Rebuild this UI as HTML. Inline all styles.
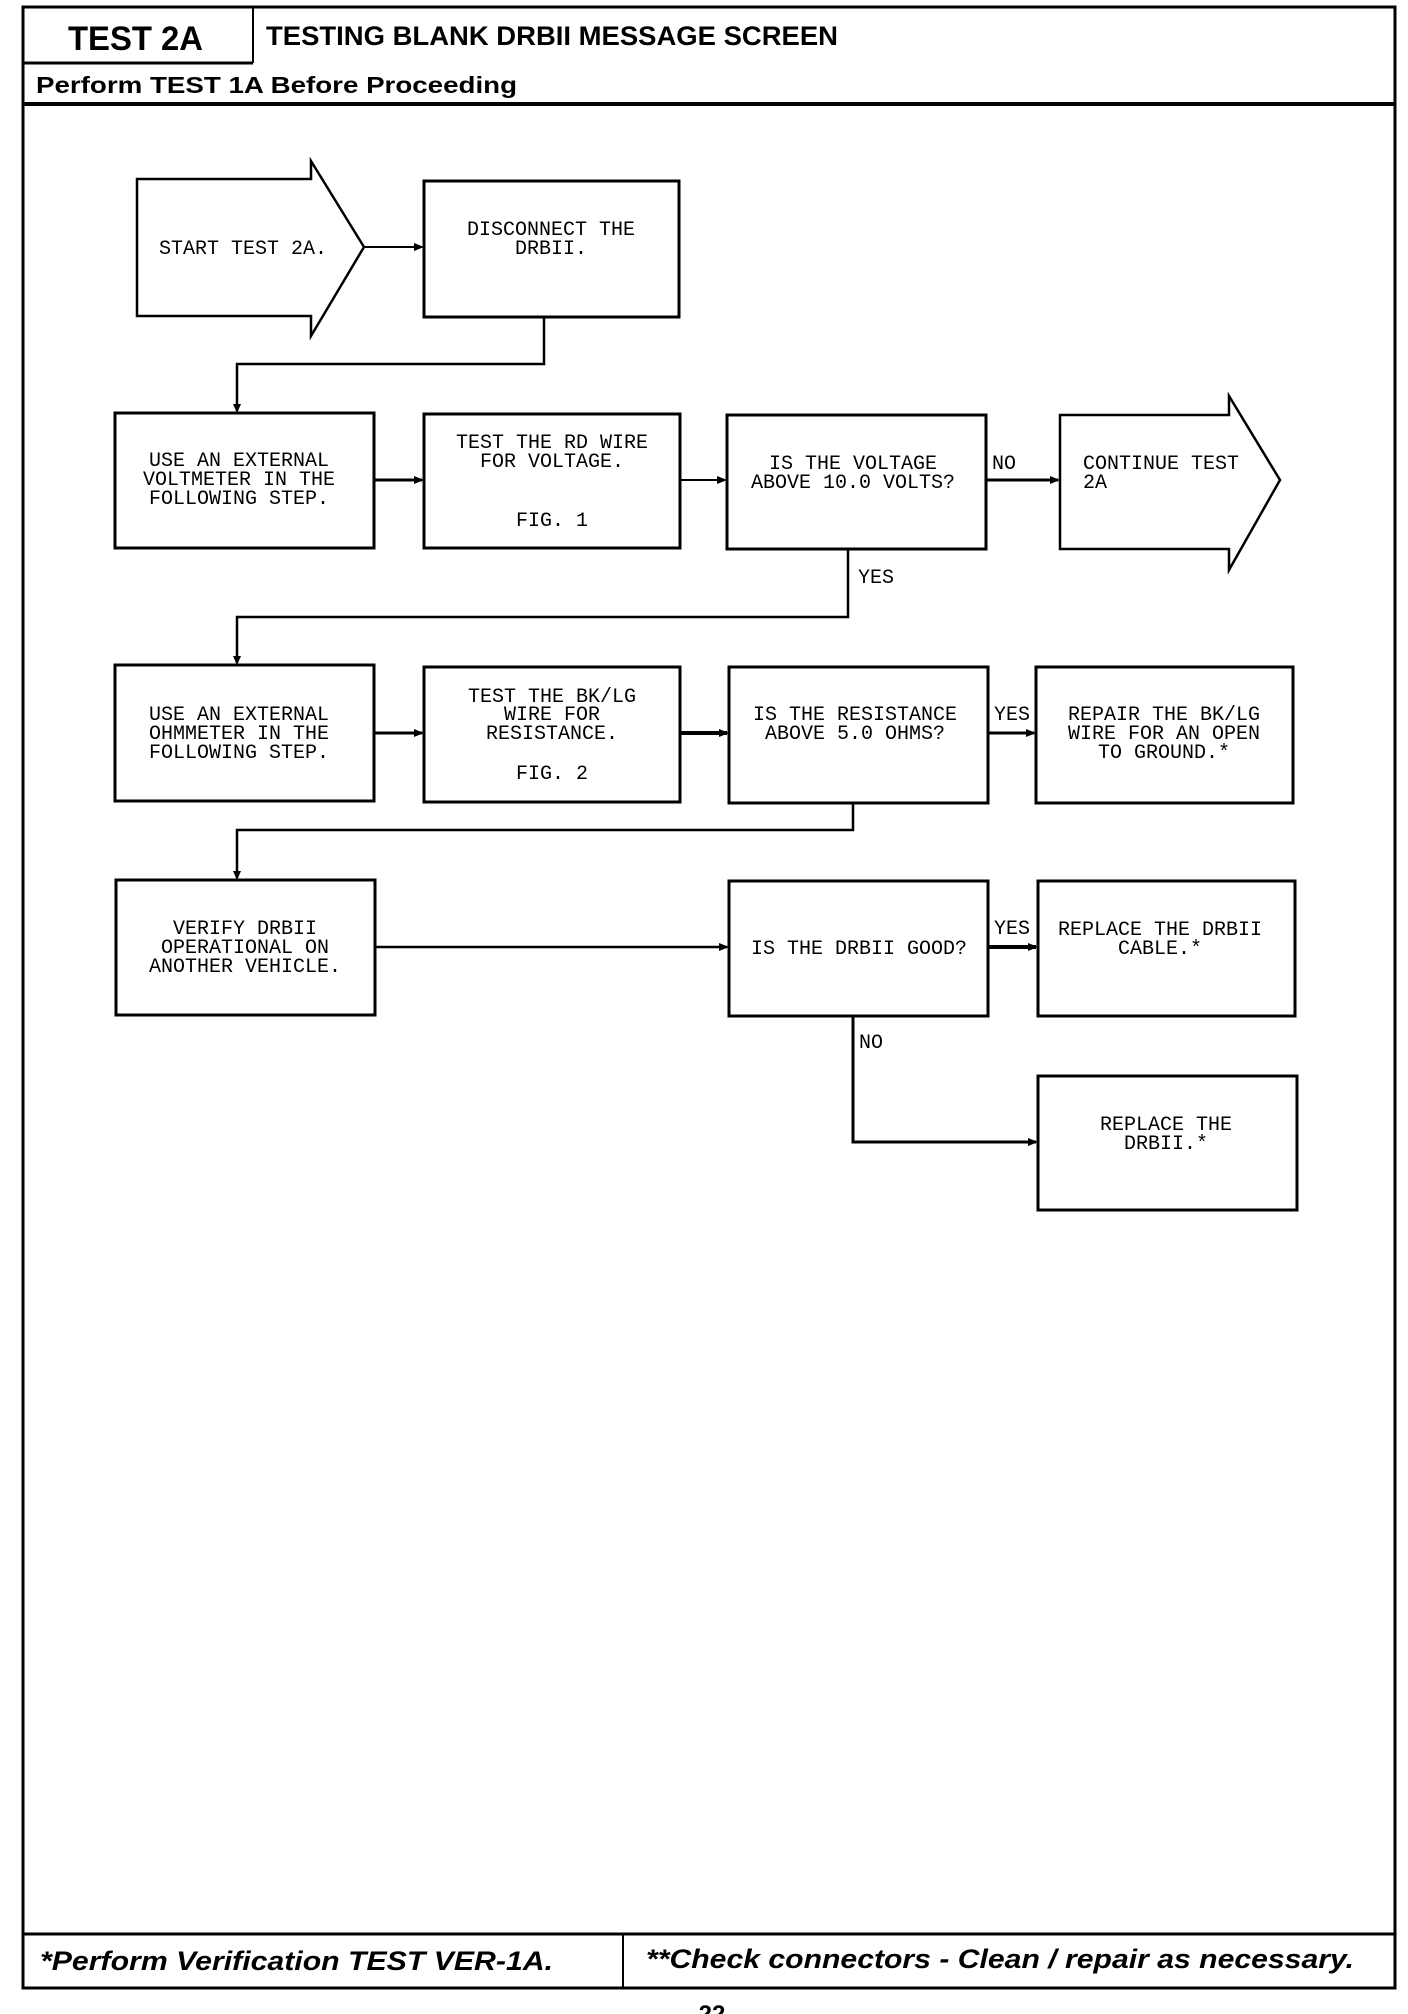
<!DOCTYPE html>
<html><head><meta charset="utf-8"><style>
html,body{margin:0;padding:0;background:#fff;}
svg{display:block;}
.m{font-family:"Liberation Mono",monospace;font-size:20px;fill:#000;}
.c{text-anchor:middle;}
</style></head><body>
<svg width="1408" height="2014" viewBox="0 0 1408 2014" xmlns="http://www.w3.org/2000/svg">
<rect width="1408" height="2014" fill="#fff"/>
<g fill="none" stroke="#000">
<!-- outer frame -->
<rect x="23" y="7" width="1372" height="1927" stroke-width="3"/>
<line x1="23" y1="63" x2="253" y2="63" stroke-width="3"/>
<line x1="253" y1="7" x2="253" y2="63" stroke-width="2"/>
<line x1="23" y1="104" x2="1395" y2="104" stroke-width="4"/>
<!-- footer -->
<rect x="23" y="1934" width="1372" height="54" stroke-width="3"/>
<line x1="623" y1="1934" x2="623" y2="1988" stroke-width="2"/>

<!-- start arrow -->
<polygon points="137,179 311,179 311,161 364,247 311,336 311,316 137,316" stroke-width="2.5"/>
<rect x="424" y="181" width="255" height="136" stroke-width="3"/>
<line x1="364" y1="247" x2="422" y2="247" stroke-width="2"/>
<!-- connector -->
<polyline points="544,317 544,364 237,364 237,411" stroke-width="2.5"/>

<!-- row 2 -->
<rect x="115" y="413" width="259" height="135" stroke-width="3"/>
<rect x="424" y="414" width="256" height="134" stroke-width="3"/>
<rect x="727" y="415" width="259" height="134" stroke-width="3"/>
<polygon points="1060,415 1229,415 1229,396 1280,480 1229,570 1229,549 1060,549" stroke-width="2.5"/>
<line x1="374" y1="480" x2="422" y2="480" stroke-width="3"/>
<line x1="680" y1="480" x2="725" y2="480" stroke-width="2"/>
<line x1="986" y1="480" x2="1058" y2="480" stroke-width="3"/>
<polyline points="848,549 848,617 237,617 237,663" stroke-width="2.5"/>

<!-- row 3 -->
<rect x="115" y="665" width="259" height="136" stroke-width="3"/>
<rect x="424" y="667" width="256" height="135" stroke-width="3"/>
<rect x="729" y="667" width="259" height="136" stroke-width="3"/>
<rect x="1036" y="667" width="257" height="136" stroke-width="3"/>
<line x1="374" y1="733" x2="422" y2="733" stroke-width="3"/>
<line x1="680" y1="733" x2="727" y2="733" stroke-width="4"/>
<line x1="988" y1="733" x2="1034" y2="733" stroke-width="3"/>
<polyline points="853,803 853,830 237,830 237,878" stroke-width="2.5"/>

<!-- row 4 -->
<rect x="116" y="880" width="259" height="135" stroke-width="3"/>
<rect x="729" y="881" width="259" height="135" stroke-width="3"/>
<rect x="1038" y="881" width="257" height="135" stroke-width="3"/>
<line x1="375" y1="947" x2="727" y2="947" stroke-width="2.5"/>
<line x1="988" y1="947" x2="1036" y2="947" stroke-width="4"/>
<polyline points="853,1016 853,1142 1036,1142" stroke-width="3"/>
<rect x="1038" y="1076" width="259" height="134" stroke-width="3"/>
</g>
<!-- arrowheads -->
<g fill="#000">
<polygon points="424,247 414,243 414,251"/>
<polygon points="237,413 233,404 241,404"/>
<polygon points="424,480 414,476 414,484"/>
<polygon points="727,480 717,476 717,484"/>
<polygon points="1060,480 1050,476 1050,484"/>
<polygon points="237,665 233,656 241,656"/>
<polygon points="424,733 414,729 414,737"/>
<polygon points="729,733 719,729 719,737"/>
<polygon points="1036,733 1026,729 1026,737"/>
<polygon points="237,880 233,871 241,871"/>
<polygon points="729,947 719,943 719,951"/>
<polygon points="1038,947 1028,943 1028,951"/>
<polygon points="1038,1142 1028,1138 1028,1146"/>
</g>

<!-- header text -->
<g font-family="Liberation Sans, sans-serif" font-weight="bold" fill="#000">
<text x="68" y="50" font-size="34" textLength="135" lengthAdjust="spacingAndGlyphs">TEST 2A</text>
<text x="266" y="45" font-size="27" textLength="572" lengthAdjust="spacingAndGlyphs">TESTING BLANK DRBII MESSAGE SCREEN</text>
<text x="36" y="93" font-size="23" textLength="481" lengthAdjust="spacingAndGlyphs">Perform TEST 1A Before Proceeding</text>
<text x="40" y="1970" font-size="27" font-style="italic" textLength="513" lengthAdjust="spacingAndGlyphs">*Perform Verification TEST VER-1A.</text>
<text x="646" y="1968" font-size="27" font-style="italic" textLength="708" lengthAdjust="spacingAndGlyphs">**Check connectors - Clean / repair as necessary.</text>
<text x="712" y="2022" font-size="24" text-anchor="middle">22</text>
</g>

<!-- box text -->
<g class="m">
<text class="c" x="243" y="254">START TEST 2A.</text>
<text class="c" x="551" y="235">DISCONNECT THE</text>
<text class="c" x="551" y="254">DRBII.</text>

<text class="c" x="239" y="466">USE AN EXTERNAL</text>
<text class="c" x="239" y="485">VOLTMETER IN THE</text>
<text class="c" x="239" y="504">FOLLOWING STEP.</text>
<text class="c" x="552" y="448">TEST THE RD WIRE</text>
<text class="c" x="552" y="467">FOR VOLTAGE.</text>
<text class="c" x="552" y="526">FIG. 1</text>
<text class="c" x="853" y="469">IS THE VOLTAGE</text>
<text class="c" x="853" y="488">ABOVE 10.0 VOLTS?</text>
<text x="1083" y="469">CONTINUE TEST</text>
<text x="1083" y="488">2A</text>
<text x="992" y="469">NO</text>
<text x="858" y="583">YES</text>

<text class="c" x="239" y="720">USE AN EXTERNAL</text>
<text class="c" x="239" y="739">OHMMETER IN THE</text>
<text class="c" x="239" y="758">FOLLOWING STEP.</text>
<text class="c" x="552" y="702">TEST THE BK/LG</text>
<text class="c" x="552" y="720">WIRE FOR</text>
<text class="c" x="552" y="739">RESISTANCE.</text>
<text class="c" x="552" y="779">FIG. 2</text>
<text class="c" x="855" y="720">IS THE RESISTANCE</text>
<text class="c" x="855" y="739">ABOVE 5.0 OHMS?</text>
<text x="994" y="720">YES</text>
<text class="c" x="1164" y="720">REPAIR THE BK/LG</text>
<text class="c" x="1164" y="739">WIRE FOR AN OPEN</text>
<text class="c" x="1164" y="758">TO GROUND.*</text>

<text class="c" x="245" y="934">VERIFY DRBII</text>
<text class="c" x="245" y="953">OPERATIONAL ON</text>
<text class="c" x="245" y="972">ANOTHER VEHICLE.</text>
<text class="c" x="859" y="954">IS THE DRBII GOOD?</text>
<text x="994" y="934">YES</text>
<text class="c" x="1160" y="935">REPLACE THE DRBII</text>
<text class="c" x="1160" y="954">CABLE.*</text>
<text x="859" y="1048">NO</text>
<text class="c" x="1166" y="1130">REPLACE THE</text>
<text class="c" x="1166" y="1149">DRBII.*</text>
</g>
</svg>
</body></html>
